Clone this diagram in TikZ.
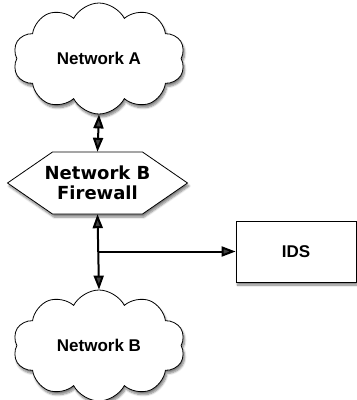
\documentclass[tikz,border=0pt]{standalone}
\usepackage{fontspec}
\setmainfont{Liberation Sans}
\newfontfamily\fwfont{DejaVu Sans}
\usetikzlibrary{shapes.symbols,shadows.blur,arrows.meta,calc}
\tikzset{
  shade3/.style={blur shadow={shadow xshift=1.5pt, shadow yshift=-3pt, shadow blur steps=6, shadow opacity=50}},
  cloudnode/.style={cloud, cloud puffs=10, cloud puff arc=125, aspect=1.65, draw, fill=white,
    line width=0.8pt, minimum width=172pt, minimum height=111pt, inner sep=0pt,
    font=\fontsize{17}{20}\selectfont\bfseries, shade3},
  fwnode/.style={rectangle, minimum width=90pt, minimum height=62pt, inner sep=0pt, align=center,
    font=\fwfont\fontsize{18}{20}\selectfont\bfseries},
  hexline/.style={draw, fill=white, line width=0.8pt, line join=miter, shade3},
  boxnode/.style={rectangle, draw, fill=white, line width=0.8pt, minimum width=120pt, minimum height=61pt,
    font=\fontsize{17}{20}\selectfont\bfseries, shade3},
  conn/.style={line width=2pt, {Triangle[length=14pt,width=10pt]}-{Triangle[length=14pt,width=10pt]}},
  oneway/.style={line width=2pt, -{Triangle[length=14pt,width=10pt]}}
}
\begin{document}
\begin{tikzpicture}[x=1pt,y=-1pt]
\useasboundingbox (0,0) rectangle (357,400);
\node[cloudnode] (cA) at (99,58.5) {Network A};
\draw[hexline] (52.5,152) -- (142.5,152) -- (187.5,183) -- (142.5,214) -- (52.5,214) -- (7.5,183) -- cycle;
\node[fwnode] (fw) at (97.5,183) {Network B\\Firewall};
\node[boxnode] (ids) at (296,251.5) {IDS};
\node[cloudnode] (cB) at (99,345.5) {Network B};
\draw[conn] (cA.south) -- (fw.north);
\draw[conn] (fw.south) -- (cB.north);
\coordinate (br) at (fw.south |- ids.west);
\draw[oneway] (br) -- (ids.west);
\end{tikzpicture}
\end{document}
